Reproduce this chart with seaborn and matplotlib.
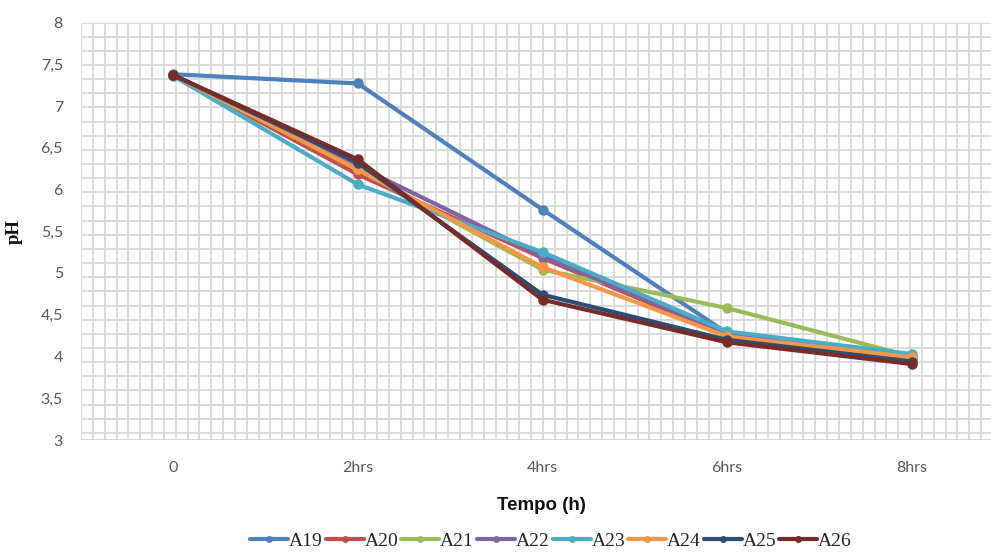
import numpy as np
import pandas as pd
import matplotlib
matplotlib.use("Agg")
import matplotlib.pyplot as plt
import seaborn as sns
from matplotlib.ticker import FixedLocator, FuncFormatter

# pH readings over fermentation time for each sample
times = ["0", "2hrs", "4hrs", "6hrs", "8hrs"]
A19 = [7.38, 7.27, 5.76, 4.28, 4.00]
A20 = [7.37, 6.18, 5.18, 4.25, 3.97]
A21 = [7.37, 6.24, 5.04, 4.58, 4.00]
A22 = [7.37, 6.28, 5.20, 4.27, 4.00]
A23 = [7.36, 6.06, 5.25, 4.30, 4.03]
A24 = [7.37, 6.24, 5.07, 4.24, 3.99]
A25 = [7.37, 6.32, 4.74, 4.20, 3.94]
A26 = [7.37, 6.36, 4.68, 4.17, 3.91]

samples = ["A19", "A20", "A21", "A22", "A23", "A24", "A25", "A26"]
values = [A19, A20, A21, A22, A23, A24, A25, A26]
colors = ["#4F81BD", "#C0504D", "#9BBB59", "#8064A2",
          "#4BACC6", "#F79646", "#2C4D75", "#772C2A"]

df = pd.DataFrame({
    "Tempo": times * len(samples),
    "pH": np.concatenate(values),
    "Amostra": np.repeat(samples, len(times)),
})

sns.set_style("white")
plt.rcParams["font.family"] = ["Lato", "DejaVu Sans"]

fig = plt.figure(figsize=(9.91, 5.52), dpi=100)
# plot area runs slightly past the right edge of the canvas
ax = fig.add_axes([81 / 991, 1 - 440 / 552, 923 / 991, (440 - 22.5) / 552])

sns.lineplot(data=df, x="Tempo", y="pH", hue="Amostra", hue_order=samples,
             palette=colors, marker="o", markersize=7.5, markeredgewidth=0,
             linewidth=3.0, sort=False, ax=ax, legend=True)

ax.set_xlim(-0.5, 4.5)
ax.set_ylim(3, 8)

# fine background grid
x_step = 11.85 / 184.7
ax.xaxis.set_minor_locator(FixedLocator(np.arange(-0.5, 4.55, x_step)))
ax.yaxis.set_minor_locator(FixedLocator(8 - 0.1695 * np.arange(0, 30)))
ax.grid(False)
ax.grid(which="minor", color="#d9d9d9", linewidth=1.3)
ax.set_axisbelow(True)
for s in ax.spines.values():
    s.set_visible(False)
ax.axhline(3, color="#d9d9d9", linewidth=1.5, zorder=0)
ax.axhline(8, color="#d9d9d9", linewidth=1.5, zorder=0)

ax.set_yticks(np.arange(3, 8.01, 0.5))
ax.yaxis.set_major_formatter(FuncFormatter(
    lambda v, p: (f"{v:g}").replace(".", ",")))
ax.tick_params(which="both", length=0)
ax.tick_params(axis="y", pad=13, labelsize=11.5, labelcolor="#595959")
ax.tick_params(axis="x", pad=15, labelsize=11.5, labelcolor="#595959")

ax.set_xlabel("Tempo (h)", fontsize=13.5, fontweight="bold",
              family=["Liberation Sans Narrow", "Liberation Sans"], color="#111111")
ax.xaxis.set_label_coords((541 - 81) / 923, -(497 - 440) / 417.5)
ax.set_ylabel("pH", fontsize=13.5, fontweight="bold",
              family=["Liberation Serif"], color="#111111")
ax.yaxis.set_label_coords(-(81 - 23) / 923, (440 - 232) / 417.5)

handles, labels = ax.get_legend_handles_labels()
ax.get_legend().remove()
for h in handles:
    h.set_markersize(5)
fig.legend(handles, labels, loc="center", bbox_to_anchor=(551 / 991, 1 - 541 / 552),
           ncol=8, frameon=False, handlelength=1.95, handletextpad=0.05,
           columnspacing=0.15, borderaxespad=0,
           prop={"family": "Liberation Serif", "size": 14})

fig.savefig("out.png", dpi=100)
